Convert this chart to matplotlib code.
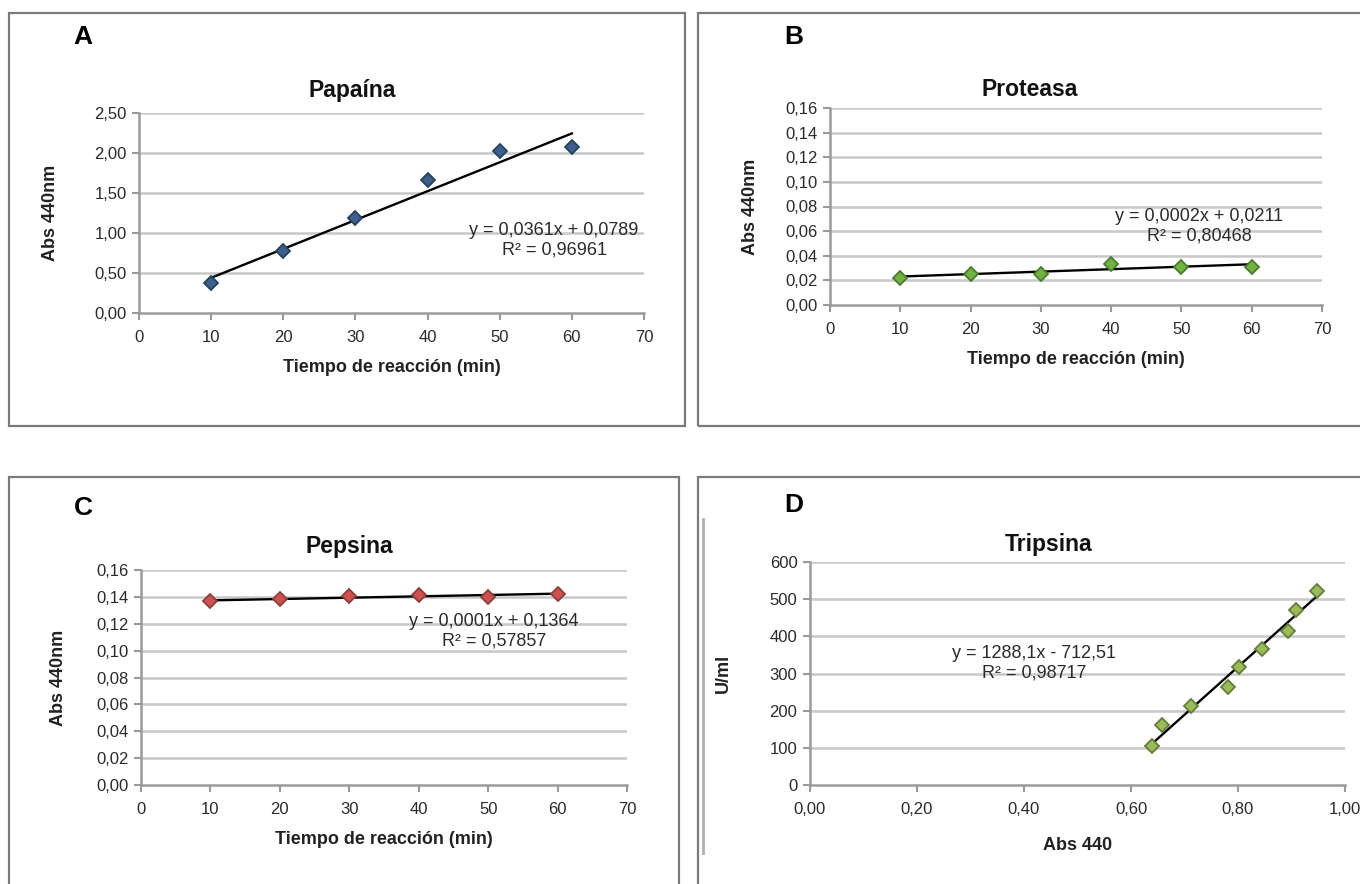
import matplotlib.pyplot as plt
import numpy as np

W, H = 1360, 884

# ---- Data ----
tiempo = [10, 20, 30, 40, 50, 60]
papaina_abs = [0.38, 0.78, 1.19, 1.66, 2.03, 2.08]
proteasa_abs = [0.022, 0.025, 0.025, 0.033, 0.031, 0.031]
pepsina_abs = [0.137, 0.1385, 0.141, 0.1415, 0.140, 0.142]
tripsina_abs = [0.640, 0.658, 0.712, 0.781, 0.802, 0.845, 0.894, 0.908, 0.948]
tripsina_uml = [105, 161, 212, 265, 317, 366, 415, 470, 522]

# trendline coefficients (slope, intercept) and R^2 as printed
papaina_fit = (0.0361, 0.0789, "0,96961")
proteasa_fit = (0.0002, 0.0211, "0,80468")
pepsina_fit = (0.0001, 0.1364, "0,57857")
tripsina_fit = (1288.1, -712.51, "0,98717")

ax_font = ["Liberation Sans", "DejaVu Sans"]
grid_col = "#c8c8c8"
axis_col = "#9a9a9a"


def px_rect(x0, y0, x1, y1):
    # pixel box (top-left origin) -> figure fraction rect
    return [x0 / W, 1 - y1 / H, (x1 - x0) / W, (y1 - y0) / H]


def comma(v, nd):
    return f"{v:.{nd}f}".replace(".", ",")


def style_axes(ax, xticks, yticks, xfmt, yfmt):
    ax.set_xlim(xticks[0], xticks[-1])
    ax.set_ylim(yticks[0], yticks[-1])
    ax.set_xticks(xticks)
    ax.set_yticks(yticks)
    ax.set_xticklabels([xfmt(t) for t in xticks], family=ax_font, fontsize=12, color="#2a2a2a")
    ax.set_yticklabels([yfmt(t) for t in yticks], family=ax_font, fontsize=12, color="#2a2a2a")
    for t in yticks[1:]:
        ax.axhline(t, color=grid_col, lw=1.8, zorder=1)
    for s in ["top", "right"]:
        ax.spines[s].set_visible(False)
    for s in ["left", "bottom"]:
        ax.spines[s].set_color(axis_col)
        ax.spines[s].set_linewidth(1.8)
    ax.tick_params(direction="out", length=5, width=1.5, color=axis_col)
    ax.tick_params(axis="y", pad=4)
    ax.tick_params(axis="x", pad=7)
    ax.set_facecolor("none")


def panel_frame(fig, x0, y0, x1, y1):
    fig.patches.append(plt.Rectangle((x0 / W, 1 - y1 / H), (x1 - x0) / W, (y1 - y0) / H,
                                     transform=fig.transFigure, fill=False,
                                     edgecolor="#7a7a7a", lw=1.6))


fig = plt.figure(figsize=(W / 100, H / 100), dpi=100)
fig.patch.set_facecolor("white")

# panel frames
panel_frame(fig, 9, 13, 685, 426)
panel_frame(fig, 698, 13, 1362, 426)
panel_frame(fig, 9, 477, 679, 886)
panel_frame(fig, 698, 477, 1362, 886)
# inner border of the pasted Tripsina chart
fig.add_artist(plt.Line2D([703 / W, 703 / W], [1 - 519 / H, 1 - 853 / H],
                          transform=fig.transFigure, color="#b0b0b0", lw=2))

panels = [
    # letter, letter xy, axes box, title, title xy, x, y, fit, face, edge,
    # yticks, yfmt, eq center, ylabel, ylabel pad, xlabel, xlabel pad
    ("A", (83, 37), (139, 113, 644, 313), "Papaína", (352, 90), tiempo, papaina_abs,
     papaina_fit, "#3d5f8a", "#26405f", np.arange(0, 2.51, 0.5), lambda v: comma(v, 2),
     (554, 240), "Abs 440nm", 25, "Tiempo de reacción (min)", 10),
    ("B", (794, 37), (830, 108, 1322, 305), "Proteasa", (1030, 90), tiempo, proteasa_abs,
     proteasa_fit, "#72b340", "#4c7a33", np.arange(0, 0.161, 0.02), lambda v: comma(v, 2),
     (1199, 226), "Abs 440nm", 19, "Tiempo de reacción (min)", 10),
    ("C", (83, 508), (141, 570, 627, 785), "Pepsina", (349, 547), tiempo, pepsina_abs,
     pepsina_fit, "#d0504f", "#8a3f3e", np.arange(0, 0.161, 0.02), lambda v: comma(v, 2),
     (494, 631), "Abs 440nm", 21, "Tiempo de reacción (min)", 10),
    ("D", (794, 505), (810, 562, 1345, 785), "Tripsina", (1049, 545), tripsina_abs,
     tripsina_uml, tripsina_fit, "#9bbb59", "#637d3a", np.arange(0, 601, 100),
     lambda v: f"{v:.0f}", (1034, 663), "U/ml", 27, "Abs 440", 15),
]

for (letter, lxy, box, title, txy, xs, ys, fit, face, edge, yticks, yfmt,
     eq_xy, ylab, ypad, xlab, xpad) in panels:
    ax = fig.add_axes(px_rect(*box))
    if letter == "D":
        xticks = np.arange(0, 1.01, 0.2)
        xfmt = lambda v: comma(v, 2)
    else:
        xticks = np.arange(0, 71, 10)
        xfmt = lambda v: f"{v:.0f}"
    style_axes(ax, xticks, yticks, xfmt, yfmt)

    m, b, r2 = fit
    xx = np.array([min(xs), max(xs)])
    ax.plot(xx, m * xx + b, color="black", lw=1.7, zorder=3)
    ax.plot(xs, ys, linestyle="none", marker="D", ms=7.4, mfc=face, mec=edge,
            mew=1.3, zorder=4, clip_on=False)

    # equation label
    if letter == "D":
        eq = f"y = {comma(m, 1)}x - {comma(abs(b), 2)}"
    else:
        eq = f"y = {comma(m, 4)}x + {comma(b, 4)}"
    fig.text(eq_xy[0] / W, 1 - eq_xy[1] / H, f"{eq}\nR² = {r2}", ha="center", va="center",
             family=ax_font, fontsize=13, color="#2a2a2a", linespacing=1.2)

    fig.text(txy[0] / W, 1 - txy[1] / H, title, ha="center", va="center",
             family=ax_font, fontsize=16.5, fontweight="bold", color="#111111")
    ax.set_xlabel(xlab, family=ax_font, fontsize=13, fontweight="bold", color="#222222",
                  labelpad=xpad)
    ax.set_ylabel(ylab, family=ax_font, fontsize=13, fontweight="bold", color="#222222",
                  labelpad=ypad)

    fig.text(lxy[0] / W, 1 - lxy[1] / H, letter, ha="center", va="center",
             family=ax_font, fontsize=19, fontweight="bold", color="black")

fig.savefig("out.png", dpi=100)
